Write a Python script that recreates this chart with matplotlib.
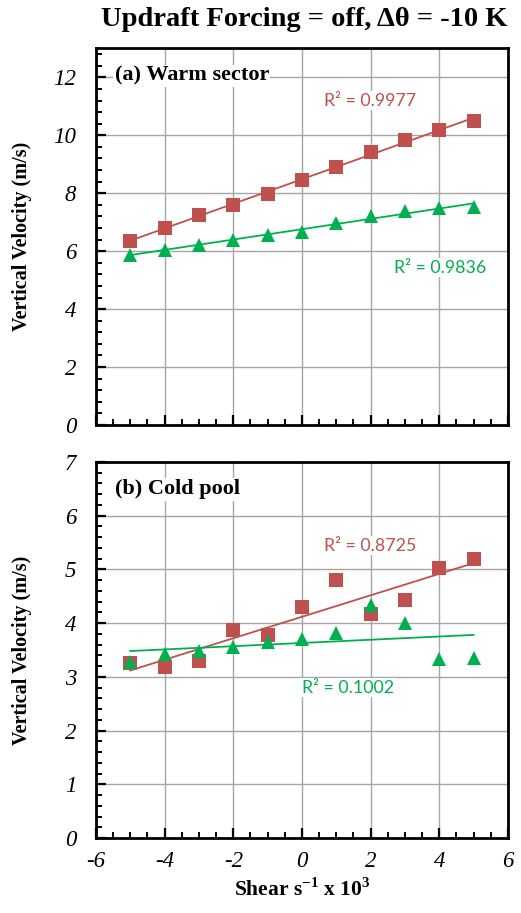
import numpy as np
import matplotlib
matplotlib.use('Agg')
import matplotlib.pyplot as plt
from matplotlib.ticker import MultipleLocator

plt.rcParams['axes.unicode_minus'] = False
plt.rcParams['mathtext.fontset'] = 'custom'
plt.rcParams['mathtext.rm'] = 'Liberation Serif'
plt.rcParams['mathtext.bf'] = 'Liberation Serif:bold'

# data
shear = [-5, -4, -3, -2, -1, 0, 1, 2, 3, 4, 5]
warm_red = [6.34, 6.8, 7.26, 7.6, 7.98, 8.46, 8.91, 9.43, 9.85, 10.2, 10.48]
warm_green = [5.87, 6.03, 6.23, 6.4, 6.57, 6.65, 6.97, 7.22, 7.37, 7.49, 7.54]
cold_red = [3.26, 3.19, 3.30, 3.87, 3.78, 4.30, 4.80, 4.17, 4.43, 5.02, 5.19]
cold_green = [3.28, 3.43, 3.48, 3.56, 3.65, 3.70, 3.82, 4.33, 4.00, 3.34, 3.36]
r2_labels = [['R² = 0.9977', 'R² = 0.9836'], ['R² = 0.8725', 'R² = 0.1002']]

RED = '#C0504D'
GREEN = '#00B050'
serif = 'Liberation Serif'
sans = 'Lato'

fig = plt.figure(figsize=(5.21, 9.13), dpi=100)
ax1 = fig.add_axes([0.184, 0.5345, 0.791, 0.4125])
ax2 = fig.add_axes([0.184, 0.082, 0.791, 0.412])


def draw_panel(ax, red, green, ylim, ymaj, ymin, label, r2, r2pos):
    x = np.array(shear)
    for vals, col, mk in [(red, RED, 's'), (green, GREEN, '^')]:
        p = np.polyfit(x, vals, 1)
        ax.plot(x, np.polyval(p, x), color=col, lw=1.3, zorder=3)
        ax.plot(x, vals, linestyle='none', marker=mk, color=col, ms=9.5,
                markeredgewidth=0, zorder=4)
    ax.set_xlim(-6, 6)
    ax.set_ylim(*ylim)
    ax.xaxis.set_major_locator(MultipleLocator(2))
    ax.xaxis.set_minor_locator(MultipleLocator(0.5))
    ax.yaxis.set_major_locator(MultipleLocator(ymaj))
    ax.yaxis.set_minor_locator(MultipleLocator(ymin))
    ax.grid(True, which='major', color='#A6A6A6', lw=1.0, zorder=0)
    ax.set_axisbelow(True)
    ax.tick_params(which='major', direction='in', length=7, width=1.6,
                   labelsize=16.5)
    ax.tick_params(axis='y', which='major', pad=14)
    ax.tick_params(axis='x', which='major', pad=9)
    ax.tick_params(which='minor', direction='in', length=4, width=1.4)
    for s in ax.spines.values():
        s.set_linewidth(2)
    for t in ax.get_yticklabels() + ax.get_xticklabels():
        t.set_fontfamily(serif)
        t.set_fontstyle('italic')
    ax.set_ylabel('Vertical Velocity (m/s)', fontfamily=serif,
                  fontweight='bold', fontsize=14.5)
    ax.yaxis.set_label_coords(-0.156, 0.5)
    ax.text(-5.45, ylim[1] - (ylim[1] - ylim[0]) * 0.073, label,
            fontfamily=serif, fontweight='bold', fontsize=16,
            va='center', ha='left', zorder=5,
            bbox=dict(facecolor='white', edgecolor='none', pad=1))
    for txt, col, (tx, ty) in zip(r2, [RED, GREEN], r2pos):
        ax.text(tx, ty, txt, color=col, fontfamily=sans, fontsize=12.8,
                ha='center', va='center', zorder=5,
                bbox=dict(facecolor='white', edgecolor='none', pad=1))


draw_panel(ax1, warm_red, warm_green, (0, 13), 2, 0.4, '(a) Warm sector',
           r2_labels[0], [(1.98, 11.2), (4.02, 5.43)])
draw_panel(ax2, cold_red, cold_green, (0, 7), 1, 0.2, '(b) Cold pool',
           r2_labels[1], [(1.98, 5.44), (1.34, 2.8)])
ax1.tick_params(labelbottom=False)
ax2.set_xlabel(r'Shear s$^{\mathbf{-1}}$ x 10$^{\mathbf{3}}$', fontfamily=serif,
               fontweight='bold', fontsize=15.5, labelpad=5)

fig.text(0.584, 0.979, 'Updraft Forcing = off, Δθ = -10 K', fontfamily=serif,
         fontweight='bold', fontsize=20.5, ha='center', va='center')

fig.savefig('out.png', dpi=100)
